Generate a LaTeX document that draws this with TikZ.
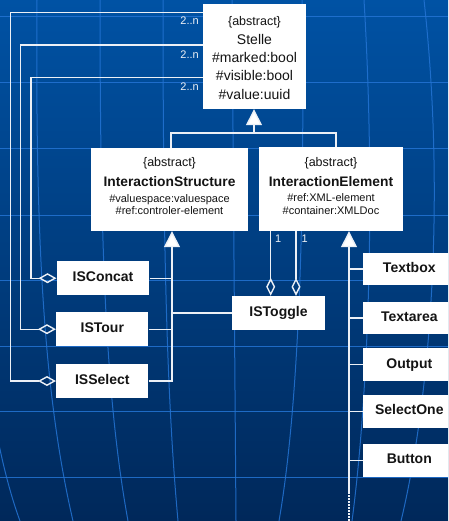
\documentclass[tikz,border=0pt]{standalone}
\usepackage{fontspec}
\setmainfont{Liberation Sans}
\usetikzlibrary{arrows.meta}

\definecolor{bgtop}{RGB}{0,82,164}
\definecolor{bgmid}{RGB}{0,60,128}
\definecolor{bgbot}{RGB}{0,40,90}
\definecolor{gridc}{RGB}{36,116,212}
\definecolor{wirec}{RGB}{236,240,246}
\definecolor{ink}{RGB}{20,20,20}

\tikzset{
  cls/.style={fill=white, draw=none, inner sep=0pt},
  leaf/.style={cls, text=ink, font=\fontsize{14}{16}\selectfont\bfseries,
    text height=10pt, text depth=3pt},
  hdr/.style={inner sep=0pt, text=ink, anchor=base, font=\fontsize{12.5}{14}\selectfont},
  cname/.style={inner sep=0pt, text=ink, anchor=base, font=\fontsize{13.8}{16}\selectfont\bfseries},
  attrbig/.style={inner sep=0pt, text=ink, anchor=base, font=\fontsize{14}{16}\selectfont},
  attrsmall/.style={inner sep=0pt, text=ink, anchor=base, font=\fontsize{11}{13}\selectfont},
  mult/.style={inner sep=0pt, text=wirec, font=\fontsize{11}{13}\selectfont},
  wire/.style={draw=wirec, line width=1.4pt},
  gen/.style={wire, -{Triangle[length=16pt, width=16pt, fill=white]}},
  agg/.style={wire, -{Diamond[open, length=18pt, width=10pt]}},
  aggv/.style={wire, -{Diamond[open, length=18pt, width=9pt]}},
  gridline/.style={draw=gridc, line width=1pt, opacity=0.85},
}

\begin{document}
\begin{tikzpicture}[x=1pt, y=-1pt]
\useasboundingbox (0,0) rectangle (448,521);
\begin{scope}
\clip (0,0) rectangle (448,521);

% backdrop
\shade[top color=bgtop, middle color=bgmid, bottom color=bgbot] (0,0) rectangle (448,521);
\foreach \yy in {17,83,149,215,280,346,411,477}
  \draw[gridline] (0,\yy) -- (448,\yy);
\draw[gridline] (37,0) .. controls (35,250) and (45,400) .. (73,521);
\draw[gridline] (100,0) .. controls (100,250) and (106,400) .. (128,521);
\draw[gridline] (163,0) .. controls (163,250) and (167,400) .. (178,521);
\draw[gridline] (-12,380) .. controls (-5,430) and (5,480) .. (20,521);
\draw[gridline] (232,0) -- (236,521);
\draw[gridline] (302,0) .. controls (305,200) and (300,400) .. (279,521);
\draw[gridline] (364,0) .. controls (376,200) and (368,400) .. (352,521);
\draw[gridline] (424,0) .. controls (446,200) and (430,400) .. (401,521);

% classes
\node[cls, minimum width=103pt, minimum height=105pt] (Stelle) at (254.5,56.5) {};
\node[hdr] (StelleA) at (254.5,26) {\{abstract\}};
\node[attrbig] (StelleN) at (254.5,45) {Stelle};
\node[attrbig] (StelleM) at (254.5,62.5) {\#marked:bool};
\node[attrbig] (StelleV) at (254.5,81) {\#visible:bool};
\node[attrbig] (StelleU) at (254.5,99.8) {\#value:uuid};

\node[cls, minimum width=157pt, minimum height=82.5pt] (IS) at (169.5,189.75) {};
\node[hdr] (ISA) at (169.5,166.5) {\{abstract\}};
\node[cname] (ISN) at (169.5,186.7) {InteractionStructure};
\node[attrsmall] (ISV) at (169.5,202.3) {\#valuespace:valuespace};
\node[attrsmall] (ISR) at (169.5,214.3) {\#ref:controler-element};

\node[cls, minimum width=144pt, minimum height=83.5pt] (IE) at (331,189.25) {};
\node[hdr] (IEA) at (331,166.5) {\{abstract\}};
\node[cname] (IEN) at (331,186.7) {InteractionElement};
\node[attrsmall] (IER) at (331,201.7) {\#ref:XML-element};
\node[attrsmall] (IEC) at (331,214.3) {\#container:XMLDoc};

\node[leaf, minimum width=92.6pt, minimum height=33.7pt] (ISConcat) at (103,278.2) {ISConcat};
\node[leaf, minimum width=92.3pt, minimum height=33.7pt] (ISTour) at (102.3,329.2) {ISTour};
\node[leaf, minimum width=92.3pt, minimum height=33.7pt] (ISSelect) at (102.3,381) {ISSelect};
\node[leaf, minimum width=93pt, minimum height=34pt] (ISToggle) at (278.5,313) {ISToggle};

\node[leaf, minimum width=92pt, minimum height=32.6pt] (Textbox) at (409.3,269) {Textbox};
\node[leaf, minimum width=92pt, minimum height=32.6pt] (Textarea) at (409.3,318) {Textarea};
\node[leaf, minimum width=92pt, minimum height=32.6pt] (Output) at (409.3,364.5) {Output};
\node[leaf, minimum width=92pt, minimum height=32.6pt] (SelectOne) at (409.3,411.2) {SelectOne};
\node[leaf, minimum width=92pt, minimum height=32.6pt] (Button) at (409.3,460.3) {Button};

% generalisation to Stelle
\coordinate (jn) at (254,133);
\draw[gen] (jn) -- (jn |- Stelle.south);
\draw[wire] ([xshift=1.5pt]IS.north) |- (jn) -| ([xshift=5pt]IE.north);

% generalisation to InteractionStructure
\draw[gen] (ISSelect.east) -| ([xshift=2.5pt]IS.south);
\draw[wire] (ISConcat.east) -- (ISConcat.east -| 172,0);
\draw[wire] (ISTour.east) -- (ISTour.east -| 172,0);
\draw[wire] (ISToggle.west) -- (ISToggle.west -| 172,0);

% generalisation to InteractionElement
\coordinate (ieEnd) at (349,492);
\coordinate (ieTail) at (349,521);
\draw[gen] (ieEnd) -- (ieEnd |- IE.south);
\draw[wire, dash pattern=on 1.5pt off 1.5pt] (ieEnd) -- (ieTail);
\foreach \c in {Textbox,Textarea,Output,SelectOne,Button}
  \draw[wire] (\c.west) -- (\c.west -| ieEnd);

% aggregations of Stelle
\draw[agg] (Stelle.west |- 0,12.3) -| ([xshift=-45.6pt]ISSelect.west) -- (ISSelect.west);
\draw[agg] (Stelle.west |- 0,45) -| ([xshift=-35.3pt]ISTour.west) -- (ISTour.west);
\draw[agg] (Stelle.west |- 0,77.7) -| ([xshift=-25.7pt]ISConcat.west) -- (ISConcat.west);
\node[mult, anchor=base east] (m1) at (199,25) {2..n};
\node[mult, anchor=base east] (m2) at (199,58.3) {2..n};
\node[mult, anchor=base east] (m3) at (199,90.7) {2..n};

% aggregations of InteractionElement
\draw[aggv] (IE.south -| 270.7,0) -- (ISToggle.north -| 270.7,0);
\draw[aggv] (IE.south -| 296,0) -- (ISToggle.north -| 296,0);
\node[mult, anchor=base west] (m4) at (275,242.7) {1};
\node[mult, anchor=base west] (m5) at (301.5,242.7) {1};
\end{scope}
\end{tikzpicture}
\end{document}
